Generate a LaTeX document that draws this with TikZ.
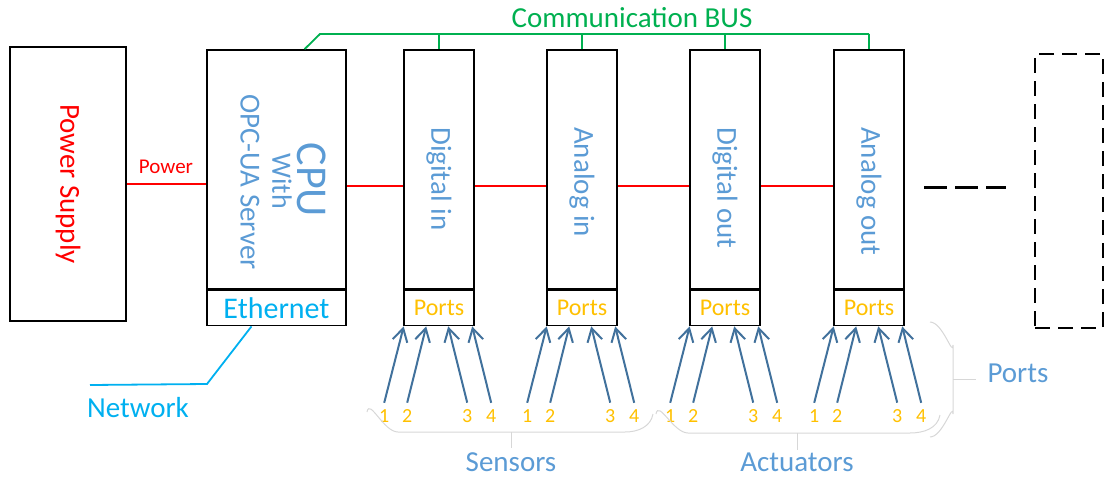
\documentclass[tikz,border=0pt]{standalone}
\usepackage{fontspec}
\setmainfont{Carlito}
\usetikzlibrary{positioning,arrows.meta,calc}

\definecolor{pwred}{RGB}{255,0,0}
\definecolor{busgreen}{RGB}{0,176,80}
\definecolor{netcyan}{RGB}{0,176,240}
\definecolor{textblue}{RGB}{91,155,213}
\definecolor{portorange}{RGB}{255,192,0}
\definecolor{sigblue}{RGB}{65,113,156}
\definecolor{bracegray}{RGB}{215,215,215}

\newcommand\szcpu{\fontsize{44}{48}\selectfont}
\newcommand\szmain{\fontsize{29}{33}\selectfont}
\newcommand\szwith{\fontsize{28}{32}\selectfont}
\newcommand\szport{\fontsize{24}{28}\selectfont}
\newcommand\szsmall{\fontsize{21}{25}\selectfont}
\newcommand\sznum{\fontsize{20}{24}\selectfont}

\begin{document}
\begin{tikzpicture}[x=1pt,y=-1pt]
    \tikzset{unit/.style={draw,line width=1.6pt,minimum width=70pt,inner sep=0pt},
        modtext/.style={rotate=-90,text=textblue,font=\szmain,inner sep=0pt},
        portnum/.style={text=portorange,font=\sznum,inner sep=3pt},
        sig/.style={draw=sigblue,line width=2pt,-{Straight Barb[length=13pt,width=15pt]}},
        power/.style={draw=pwred,line width=2.2pt},
        bus/.style={draw=busgreen,line width=1.8pt},
        net/.style={draw=netcyan,line width=1.8pt},
        bracket/.style={draw=bracegray,line width=1pt}}
    \useasboundingbox (0,0) rectangle (1105,479);

    % power supply and cpu
    \node[unit,minimum width=116pt,minimum height=274pt] (psu) at (68,184) {};
    \node[rotate=-90,text=pwred,font=\szmain] (psu-label) at (psu.center) {Power Supply};
    \node[unit,minimum width=139pt,minimum height=239pt] (cpu) at (276.5,169.5) {};
    \node[unit,minimum width=139pt,minimum height=35pt,below=0pt of cpu,
        text=netcyan,font=\fontsize{30}{34}\selectfont] (eth) {Ethernet};
    \node[modtext,font=\szcpu] (cpu-l1) at (312,180) {CPU};
    \node[modtext,font=\szwith] (cpu-l2) at (282,181) {With};
    \node[modtext] (cpu-l3) at (250,182) {OPC-UA Server};

    \draw[power] (psu.east) -- (psu.east -| cpu.west);
    \node[text=pwred,font=\szsmall] (power-label) at (166,167) {Power};

    % bus and rail
    \coordinate (bus) at (320,34);
    \coordinate (rail) at (0,186);
    \node[text=busgreen,font=\szmain] (bus-label) at (632,18) {Communication BUS};

    % modules
    \foreach \m/\x/\txt in {din/439/Digital in,ain/582/Analog in,dout/725/Digital out,aout/869/Analog out}{
        \node[unit,minimum height=239pt] (\m) at (\x,169.5) {};
        \node[unit,minimum height=35pt,below=0pt of \m,text=portorange,font=\szport] (\m-ports) {Ports};
        \node[modtext,anchor=west] (\m-label) at (\x,127) {\txt};
        \draw[bus] (\m.north) -- (\m.north |- bus);
        \foreach \n/\dt/\dh in {1/-19/0.5,2/4/23,3/64/45,4/88/69}{
            \coordinate (\m-t\n) at ($(\m-ports.south west)+(\dh,0)$);
            \node[portnum] (\m-n\n) at ($(\m-ports.south west)+(\dt,90)$) {\n};
            \draw[sig] ([yshift=4pt]\m-n\n.north) -- (\m-t\n);
        }
    }
    \draw[bus] ([xshift=28pt]cpu.north) -- (bus) -- (bus -| aout.north);
    \foreach \a/\b in {cpu/din,din/ain,ain/dout,dout/aout}
        \draw[power] (\a.east |- rail) -- (\b.west |- rail);

    % network
    \coordinate (net-bend) at (207,384);
    \coordinate (net-end) at (90,385);
    \draw[net] ([xshift=-25pt]eth.south) -- (net-bend) -- (net-end);
    \node[text=netcyan,font=\szmain] (net-label) at (138,408) {Network};

    % more modules
    \coordinate (dots-a) at (924,187);
    \coordinate (dots-b) at (1006,187);
    \draw[line width=3pt,dash pattern=on 23pt off 8pt] (dots-a) -- (dots-b);
    \node[unit,dash pattern=on 15pt off 8pt,minimum width=68pt,minimum height=274pt] (more) at (1069,191) {};

    % groups
    \draw[bracket] (367,412) to[out=80,in=180] (398,432) -- (625,432) to[out=0,in=-100] (653,414);
    \draw[bracket] (511,432) -- (511,448);
    \node[text=textblue,font=\szmain] (sensors) at (511,462) {Sensors};
    \draw[bracket] (656,414) to[out=80,in=180] (688,433) -- (910,433) to[out=0,in=-100] (940,415);
    \draw[bracket] (797,433) -- (797,450);
    \node[text=textblue,font=\szmain] (actuators) at (797,462) {Actuators};
    \draw[bracket] (930,322) to[out=0,in=-90] (953,345) -- (953,414) to[out=90,in=0] (930,437);
    \draw[bracket] (953,379) -- (976,379);
    \node[text=textblue,font=\szmain,anchor=west] (ports-label) at (984,373) {Ports};
\end{tikzpicture}
\end{document}
